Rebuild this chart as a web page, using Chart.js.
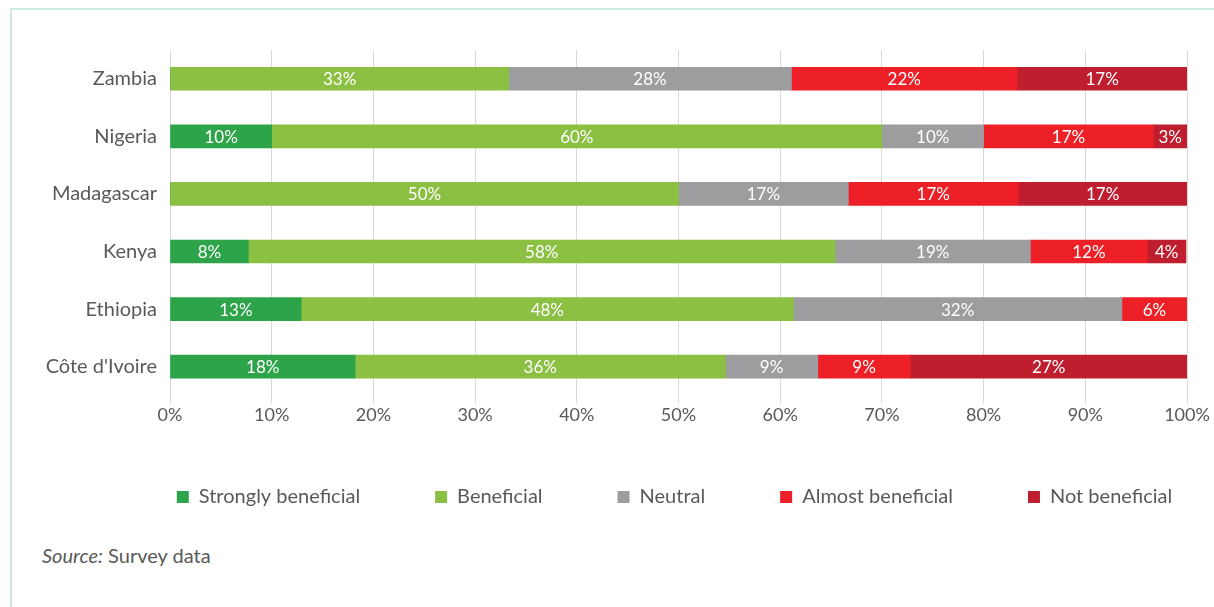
<!DOCTYPE html>
<html>
<head>
<meta charset="utf-8">
<script src="https://cdn.jsdelivr.net/npm/chart.js@4/dist/chart.umd.min.js"></script>
<style>
  html, body { margin: 0; padding: 0; background: #fff; }
  body { width: 1214px; height: 607px; position: relative; overflow: hidden; font-family: Lato, sans-serif; }
  #frame { position: absolute; left: 10px; top: 8px; width: 1204px; height: 599px;
           border-top: 2px solid #cde9e3; border-left: 2px solid #cde9e3; box-sizing: border-box; }
  #wrap { position: absolute; left: 12px; top: 10px; width: 1202px; height: 522px; }
  #source { position: absolute; left: 42px; top: 543px; font-size: 20px; color: #595959; }
</style>
</head>
<body>
<div id="frame"></div>
<div id="wrap"><canvas id="chart"></canvas></div>
<div id="source"><em>Source:</em> Survey data</div>
<script>
const countries = ['Zambia', 'Nigeria', 'Madagascar', 'Kenya', 'Ethiopia', "Côte d'Ivoire"];
const seriesNames = ['Strongly beneficial', 'Beneficial', 'Neutral', 'Almost beneficial', 'Not beneficial'];
const stronglyBeneficial = [0, 10, 0, 7.7, 12.9, 18.2];
const beneficial = [33.3, 60, 50, 57.7, 48.4, 36.4];
const neutral = [27.8, 10, 16.7, 19.2, 32.3, 9.1];
const almostBeneficial = [22.2, 16.7, 16.7, 11.5, 6.4, 9.1];
const notBeneficial = [16.7, 3.3, 16.6, 3.8, 0, 27.2];
const xTicks = [0, 10, 20, 30, 40, 50, 60, 70, 80, 90, 100];

const colors = ['#2ea44a', '#8bc043', '#9d9d9f', '#ed2027', '#be1e2d'];
const seriesValues = [stronglyBeneficial, beneficial, neutral, almostBeneficial, notBeneficial];

// white percentage labels in the middle of each segment
const segmentLabels = {
  id: 'segmentLabels',
  afterDatasetsDraw(chart) {
    const ctx = chart.ctx;
    ctx.save();
    ctx.font = '17px Lato';
    ctx.fillStyle = '#ffffff';
    ctx.textAlign = 'center';
    ctx.textBaseline = 'middle';
    chart.data.datasets.forEach((ds, i) => {
      chart.getDatasetMeta(i).data.forEach((bar, j) => {
        const v = ds.data[j];
        if (!v) return;
        const p = bar.getCenterPoint();
        ctx.fillText(Math.round(v) + '%', p.x, p.y + 1);
      });
    });
    ctx.restore();
  }
};

// centre the legend row under the plot area and pull it up a little
const legendPlacement = {
  id: 'legendPlacement',
  afterLayout(chart) {
    const lg = chart.legend;
    const area = chart.chartArea;
    const shift = (area.left + area.right) / 2 - (lg.left + lg.right) / 2 - 4;
    lg.left += shift;
    lg.right += shift;
    const h = lg.bottom - lg.top;
    lg.top = 402;
    lg.bottom = lg.top + h;
  }
};

new Chart(document.getElementById('chart'), {
  type: 'bar',
  data: {
    labels: countries,
    datasets: seriesNames.map((name, i) => ({
      label: name,
      data: seriesValues[i],
      backgroundColor: colors[i],
      borderWidth: 0,
      barThickness: 23
    }))
  },
  options: {
    indexAxis: 'y',
    responsive: true,
    maintainAspectRatio: false,
    animation: false,
    layout: { padding: { top: 40, right: 27, left: 0, bottom: 0 } },
    scales: {
      x: {
        stacked: true,
        min: 0,
        max: 100,
        afterBuildTicks(scale) { scale.ticks = xTicks.map(v => ({ value: v })); },
        grid: { color: '#d9d9d9', lineWidth: 1, tickLength: 8, drawTicks: true },
        border: { display: false },
        ticks: {
          padding: 1,
          color: '#595959',
          font: { family: 'Lato', size: 18 },
          callback: v => v + '%'
        }
      },
      y: {
        stacked: true,
        afterFit(scale) { scale.width = 158; },
        grid: { display: false },
        border: { display: false },
        ticks: { padding: 5, color: '#595959', font: { family: 'Lato', size: 20 } }
      }
    },
    plugins: {
      legend: {
        position: 'bottom',
        labels: {
          boxWidth: 12,
          boxHeight: 12,
          padding: 75,
          color: '#595959',
          font: { family: 'Lato', size: 20 }
        }
      },
      tooltip: { enabled: false }
    }
  },
  plugins: [segmentLabels, legendPlacement]
});
</script>
</body>
</html>
